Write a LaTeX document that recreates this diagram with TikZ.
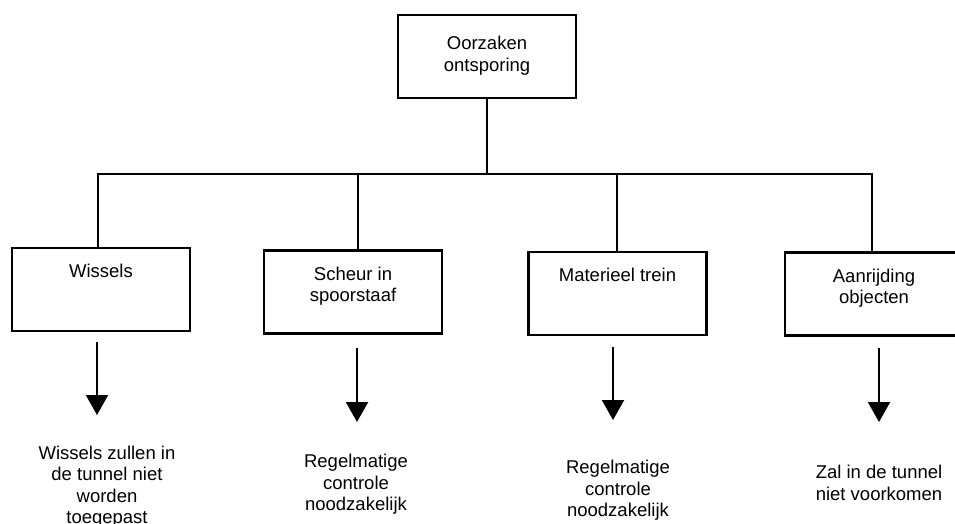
\documentclass[tikz,border=0pt]{standalone}
\usepackage{fontspec}
\setmainfont{Liberation Sans}
\usetikzlibrary{arrows.meta}

\begin{document}
\begin{tikzpicture}[
    x=1pt, y=-1pt,
    line width=2.6pt,
    every node/.style={font=\fontsize{18.5}{21.5}\selectfont},
    box/.style={rectangle, draw, minimum width=178pt, minimum height=83pt},
    txt/.style={anchor=north, inner sep=0pt, yshift=-16.5pt, align=center},
    res/.style={align=center, inner sep=0pt},
    pijl/.style={-{Triangle[length=20pt, width=22pt]}, line width=2.2pt}
]

\useasboundingbox (0,0) rectangle (955,524);

% ================= Oorzaak =================

\node[box, label={[txt, yshift=-5pt]north:{Oorzaken\\ontsporing}}] (oorzaken) at (487,56.5) {};

\coordinate (b1) at (98,174);
\coordinate (b2) at (358,174);
\coordinate (b3) at (617,174);
\coordinate (b4) at (872,174);

% ================= Soorten =================

\node[box, label={[txt]north:Wissels}]                  (wissels)    at (101,289.5) {};
\node[box, label={[txt]north:{Scheur in\\spoorstaaf}}]  (scheur)     at (353,292)   {};
\node[box, label={[txt]north:Materieel trein}]          (materieel)  at (617.5,293.5) {};
\node[box, label={[txt]north:{Aanrijding\\objecten}}]   (aanrijding) at (874,294)   {};

\draw (oorzaken.south) -- (oorzaken.south |- b1);
\draw (b1 |- wissels.north) -- (b1) -- (b4) -- (b4 |- aanrijding.north);
\draw (b2) -- (b2 |- scheur.north);
\draw (b3) -- (b3 |- materieel.north);

% ================= Gevolgen =================

\coordinate (p1) at (97,342);  \coordinate (q1) at (97,415);
\coordinate (p2) at (357,348); \coordinate (q2) at (357,422);
\coordinate (p3) at (613,347); \coordinate (q3) at (613,420);
\coordinate (p4) at (879,348); \coordinate (q4) at (879,422);

\draw[pijl] (p1) -- (q1);
\draw[pijl] (p2) -- (q2);
\draw[pijl] (p3) -- (q3);
\draw[pijl] (p4) -- (q4);

\node[res] (gevolg1) at (107,486.5) {Wissels zullen in\\de tunnel niet\\worden\\toegepast};
\node[res] (gevolg2) at (356,484.5) {Regelmatige\\controle\\noodzakelijk};
\node[res] (gevolg3) at (618,490.5) {Regelmatige\\controle\\noodzakelijk};
\node[res] (gevolg4) at (879,483)   {Zal in de tunnel\\niet voorkomen};

\end{tikzpicture}
\end{document}
